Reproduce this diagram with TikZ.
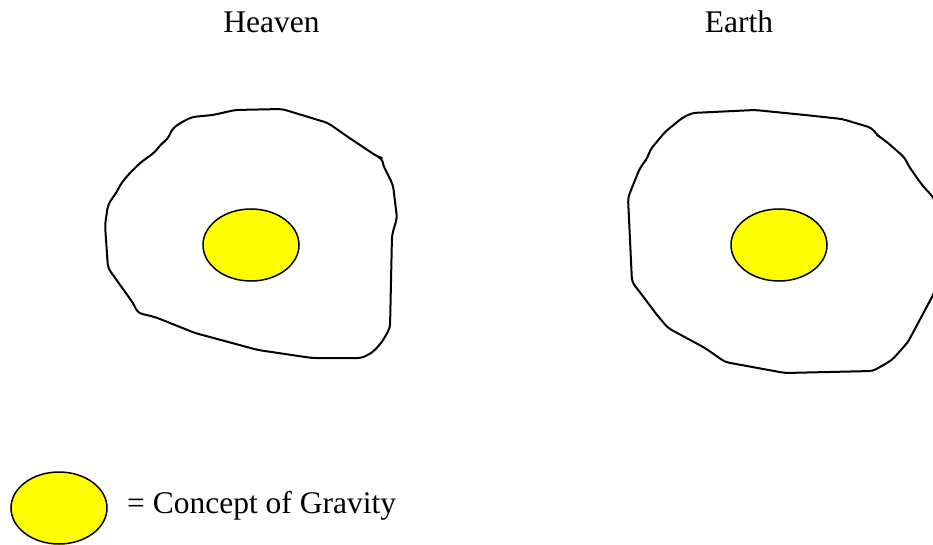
\documentclass[tikz,border=0pt]{standalone}
\usepackage{fontspec}
\setmainfont{Liberation Serif}
\usetikzlibrary{shapes.geometric}
\definecolor{yolk}{RGB}{255,255,0}
\tikzset{
  blob/.style={draw=black, line width=2pt, line join=round, line cap=round, rounded corners=4pt},
  yolknode/.style={ellipse, draw=black, line width=1.5pt, fill=yolk, minimum width=96pt, minimum height=72pt, inner sep=0pt},
  label/.style={inner sep=0pt, font=\fontsize{31.5}{36}\selectfont}
}
\begin{document}
\begin{tikzpicture}[x=1pt,y=-1pt]
\useasboundingbox (0,0) rectangle (933,545);
\fill[white] (0,0) rectangle (933,545);
% titles
\node[label, anchor=base] (heaven) at (271.5,33) {Heaven};
\node[label, anchor=base] (earth) at (739,33) {Earth};
% left blob
\draw[blob] (192,117) -- (213,115) -- (235,110) -- (282,109) -- (328,123) -- (348,137) -- (378,157) -- (382,158) -- (383,165) -- (393,185) -- (397,218) -- (392,235) -- (390,328) -- (382,342) -- (373,352) -- (362,358) -- (312,358) -- (258,350) -- (195,333) -- (155,317) -- (138,313) -- (133,303) -- (108,268) -- (105,225) -- (108,205) -- (113,197) -- (117,192) -- (120,185) -- (128,175) -- (140,163) -- (155,152) -- (162,143) -- (167,140) -- (173,128) -- (182,122) -- cycle;
% right blob
\draw[blob] (692,113) -- (755,110) -- (805,115) -- (842,119) -- (872,128) -- (877,135) -- (880,137) -- (888,143) -- (905,158) -- (908,165) -- (922,185) -- (933,197) -- (942,215) -- (945,250) -- (940,280) -- (933,295) -- (908,342) -- (892,360) -- (873,371) -- (785,373) -- (725,362) -- (705,348) -- (668,328) -- (657,315) -- (642,295) -- (632,282) -- (628,198) -- (633,185) -- (640,168) -- (648,157) -- (650,150) -- (665,132) -- (682,118) -- cycle;
% yolks
\node[yolknode] (yolkL) at (251,245) {};
\node[yolknode] (yolkR) at (779,245) {};
% legend
\node[yolknode] (legendyolk) at (59,508) {};
\node[label, anchor=base west] (legendtext) at (127,513) {= Concept of Gravity};
\end{tikzpicture}
\end{document}
